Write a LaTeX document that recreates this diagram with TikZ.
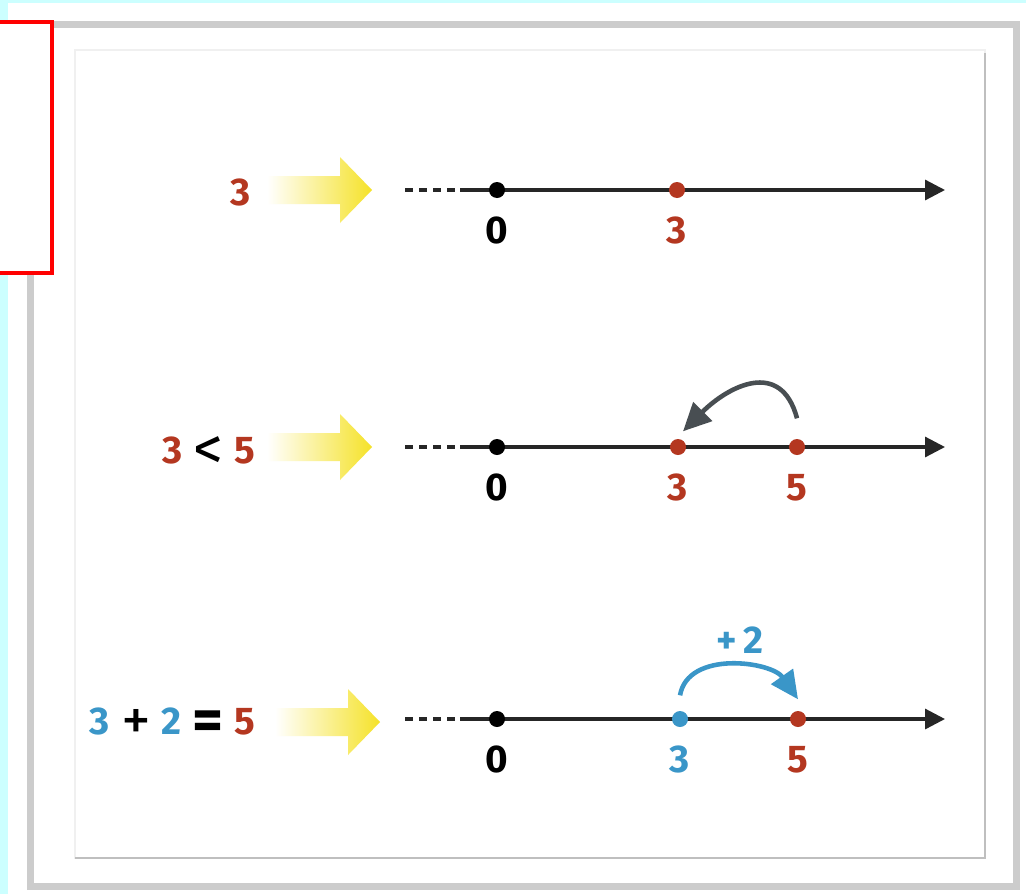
\documentclass[tikz,border=0pt]{standalone}
\usepackage{fontspec}
\setmainfont{Fira Sans}
\usepackage{xcolor}
\usetikzlibrary{positioning, arrows.meta}

\definecolor{numred}{RGB}{180,55,32}
\definecolor{numblue}{RGB}{58,150,200}
\definecolor{arcgray}{RGB}{72,78,82}
\definecolor{bgcyan}{RGB}{204,255,255}
\definecolor{hiyellow}{RGB}{245,226,40}

% big operator sign, lowered onto the digits
\newcommand{\opsign}[2]{\raisebox{-0.055cm}{\smash{#1\fontsize{17}{18}\selectfont #2}}}
\newcommand{\opgap}{\hspace{0.11cm}}

\tikzset{
  pt/.style={circle,fill,inner sep=0pt,minimum size=0.16cm},
  numlab/.style={font=\bfseries\fontsize{11}{13}\selectfont},
  axisline/.style={line width=0.9pt,black!85,-{Triangle[length=0.2cm,width=0.2cm]}},
  dotdash/.style={line width=0.9pt,black!85,dash pattern=on 0.08cm off 0.06cm},
  jump/.style={line width=1.3pt,-{Triangle[length=0.28cm,width=0.26cm]}},
}

\begin{document}
\begin{tikzpicture}
    \useasboundingbox (0,0) rectangle (10.26,8.94);

    % page and frames
    \fill[bgcyan] (0,0) rectangle (10.26,8.94);
    \fill[white] (0.08,0) rectangle (10.26,8.91);
    \draw[gray!40,line width=0.07cm] (0.30,0.08) rectangle (10.16,8.69);
    \draw[gray!12,line width=0.02cm] (0.75,0.36) rectangle (9.85,8.44);
    \draw[gray!50,line width=0.02cm] (0.75,0.36) -- (9.85,0.36) -- (9.85,8.41);
    \draw[red,line width=0.04cm,fill=white] (-0.1,8.72) rectangle (0.52,6.21);

    % yellow arrows
    \foreach \y/\tip in {7.04/3.72, 4.47/3.72, 1.72/3.80} {
        \shade[left color=white,right color=hiyellow]
            (\tip-1.05,\y-0.14) -- (\tip-0.32,\y-0.14) -- (\tip-0.32,\y-0.33)
            -- (\tip,\y) -- (\tip-0.32,\y+0.33) -- (\tip-0.32,\y+0.14)
            -- (\tip-1.05,\y+0.14) -- cycle;
    }

    % first line: 3
    \coordinate (a-dash) at (4.05,7.04);
    \coordinate (a-start) at (4.60,7.04);
    \coordinate (a-end) at (9.45,7.04);
    \draw[dotdash] (a-dash) -- (a-start);
    \draw[axisline] (a-start) -- (a-end);
    \node[pt,black] (a0) at (4.97,7.04) {};
    \node[pt,numred] (a3) at (6.77,7.04) {};
    \node[numlab,below=0.06cm of a0] (a0l) {0};
    \node[numlab,numred,below=0.06cm of a3] (a3l) {3};
    \node[numlab,numred] (aeq) at (2.41,7.02) {3};

    % second line: 3 < 5
    \coordinate (b-dash) at (4.05,4.47);
    \coordinate (b-start) at (4.60,4.47);
    \coordinate (b-end) at (9.45,4.47);
    \draw[dotdash] (b-dash) -- (b-start);
    \draw[axisline] (b-start) -- (b-end);
    \node[pt,black] (b0) at (4.97,4.47) {};
    \node[pt,numred] (b3) at (6.78,4.47) {};
    \node[pt,numred] (b5) at (7.97,4.47) {};
    \node[numlab,below=0.06cm of b0] (b0l) {0};
    \node[numlab,numred,below=0.06cm of b3] (b3l) {3};
    \node[numlab,numred,below=0.06cm of b5] (b5l) {5};
    \node[numlab,anchor=east] (beq) at (2.68,4.41)
        {\textcolor{numred}{3}\opgap\opsign{\mdseries}{<}\opgap\textcolor{numred}{5}};
    \draw[jump,arcgray] ([yshift=0.2cm]b5.north) to[out=105,in=45,looseness=1.4]
        ([xshift=0.05cm,yshift=0.07cm]b3.north);

    % third line: 3 + 2 = 5
    \coordinate (c-dash) at (4.05,1.75);
    \coordinate (c-start) at (4.60,1.75);
    \coordinate (c-end) at (9.45,1.75);
    \draw[dotdash] (c-dash) -- (c-start);
    \draw[axisline] (c-start) -- (c-end);
    \node[pt,black] (c0) at (4.97,1.75) {};
    \node[pt,numblue] (c3) at (6.80,1.75) {};
    \node[pt,numred] (c5) at (7.98,1.75) {};
    \node[numlab,below=0.06cm of c0] (c0l) {0};
    \node[numlab,numblue,below=0.06cm of c3] (c3l) {3};
    \node[numlab,numred,below=0.06cm of c5] (c5l) {5};
    \node[numlab,anchor=east] (ceq) at (2.68,1.70)
        {\textcolor{numblue}{3}\opgap\opsign{\mdseries}{+}\opgap\textcolor{numblue}{2}\opgap\opsign{\bfseries}{=}\opgap\textcolor{numred}{5}};
    \draw[jump,numblue] ([yshift=0.15cm]c3.north) to[out=80,in=125]
        ([yshift=0.11cm]c5.north);
    \node[numlab,numblue] (cplus) at (7.40,2.54) {+\,2};
\end{tikzpicture}
\end{document}
